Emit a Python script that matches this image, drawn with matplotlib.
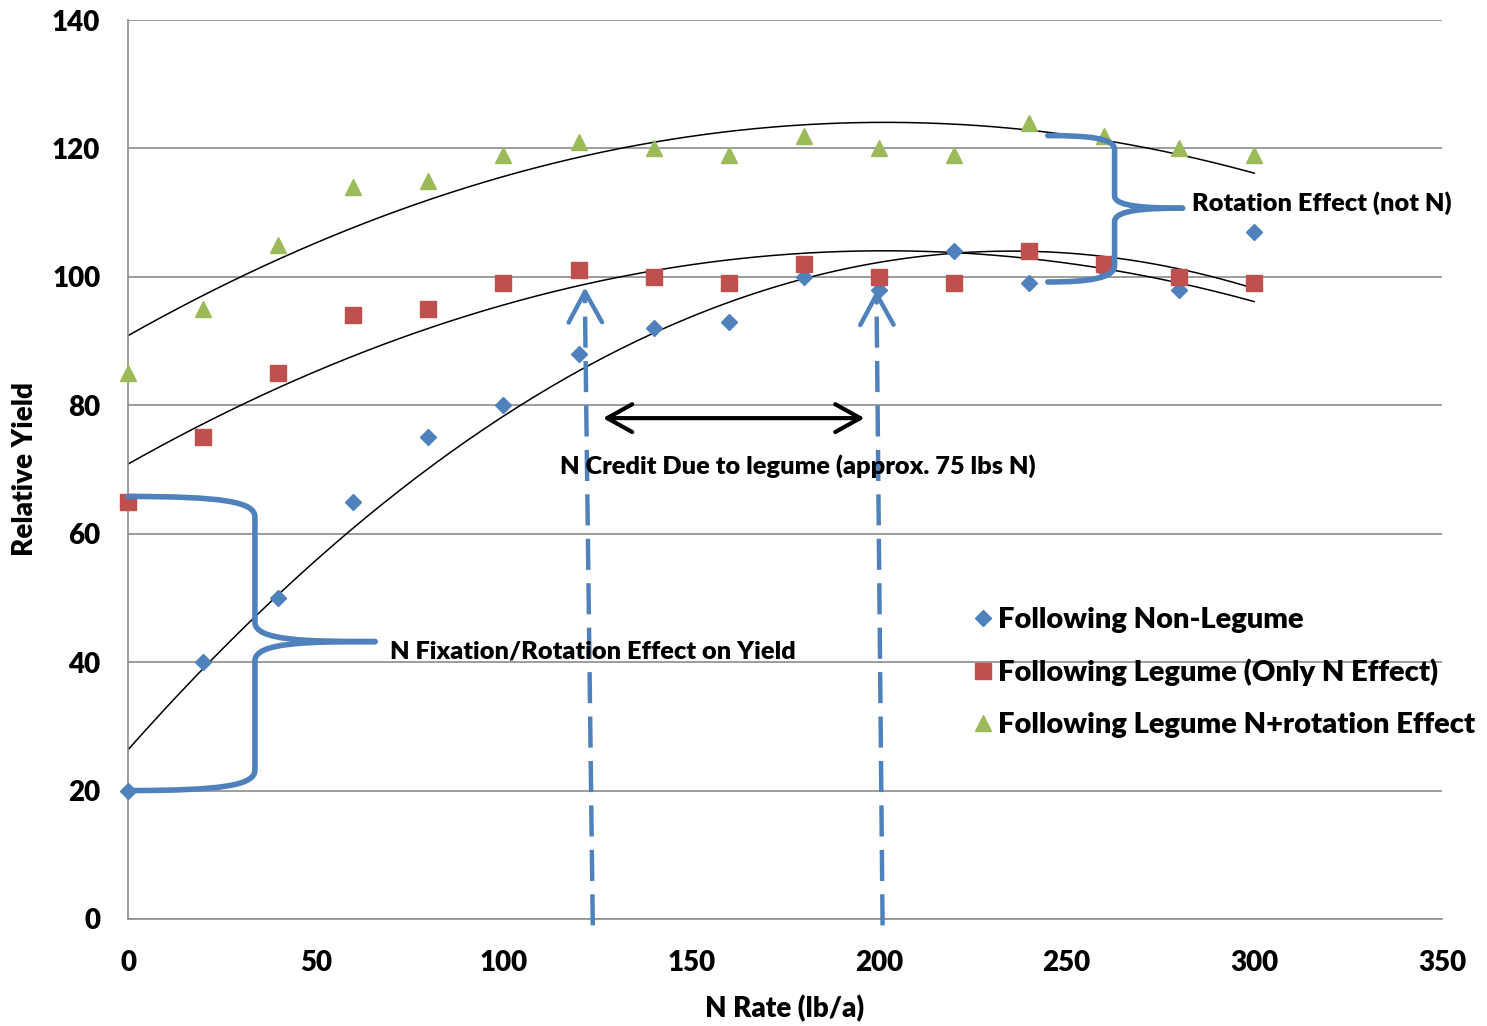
import numpy as np
import matplotlib
matplotlib.use("Agg")
import matplotlib.pyplot as plt
from matplotlib.path import Path
from matplotlib.patches import PathPatch

plt.rcParams["font.family"] = ["Lato", "DejaVu Sans"]
plt.rcParams["font.weight"] = "heavy"
plt.rcParams["axes.labelweight"] = "heavy"

n_rate = [0, 20, 40, 60, 80, 100, 120, 140, 160, 180, 200, 220, 240, 260, 280, 300]
non_legume = [20, 40, 50, 65, 75, 80, 88, 92, 93, 100, 98, 104, 99, 101, 98, 107]
legume_n = [65, 75, 85, 94, 95, 99, 101, 100, 99, 102, 100, 99, 104, 102, 100, 99]
legume_rot = [85, 95, 105, 114, 115, 119, 121, 120, 119, 122, 120, 119, 124, 122, 120, 119]

labels = [
    "Following Non-Legume",
    "Following Legume (Only N Effect)",
    "Following Legume N+rotation Effect",
]
colors = ["#4F81BD", "#C0504D", "#9BBB59"]
markers = ["D", "s", "^"]
msizes = [8, 11, 12]

fig = plt.figure(figsize=(14.87, 10.26), dpi=100)
ax = fig.add_axes([0.0861, 0.1043, 0.8836, 0.8762])

ax.set_xlim(0, 350)
ax.set_ylim(0, 140)
ax.set_yticks(range(0, 141, 20))
ax.set_xticks(range(0, 351, 50))
ax.grid(axis="y", color="#8c8c8c", linewidth=1.2)
ax.set_axisbelow(True)
for s in ["top", "right"]:
    ax.spines[s].set_visible(False)
for s in ["left", "bottom"]:
    ax.spines[s].set_color("#8c8c8c")
    ax.spines[s].set_linewidth(1.2)
ax.tick_params(length=0, labelsize=20)
ax.tick_params(axis="x", pad=22)
ax.tick_params(axis="y", pad=20)

# polynomial trend lines
xs = np.linspace(0, 300, 200)
series = [non_legume, legume_n, legume_rot]
for ys in series:
    coef = np.polyfit(n_rate, ys, 2)
    ax.plot(xs, np.polyval(coef, xs), color="black", linewidth=1.1, zorder=2)

for ys, c, m, ms, lab in zip(series, colors, markers, msizes, labels):
    ax.plot(n_rate, ys, linestyle="none", marker=m, markersize=ms, color=c,
            label=lab, zorder=3, clip_on=False)

blue = "#4F81BD"

# curly brackets
def brace(pts):
    codes = [Path.MOVETO, Path.CURVE4, Path.CURVE4, Path.CURVE4, Path.LINETO,
             Path.CURVE4, Path.CURVE4, Path.CURVE4]
    p = PathPatch(Path(pts, codes), facecolor="none", edgecolor=blue,
                  linewidth=4, capstyle="round", joinstyle="round",
                  zorder=4, clip_on=False)
    ax.add_patch(p)

# left bracket (N fixation)
brace([(0, 65.8), (25, 65.8), (33.8, 65.0), (33.8, 62.6), (33.8, 46.2),
       (33.8, 43.3), (48, 43.2), (65.8, 43.2)])
brace([(0, 20.0), (25, 20.0), (33.8, 20.8), (33.8, 23.2), (33.8, 40.2),
       (33.8, 43.1), (48, 43.2), (65.8, 43.2)])
# right bracket (rotation)
brace([(245, 122.0), (256, 122.0), (262.8, 121.6), (262.8, 119.8), (262.8, 112.6),
       (262.8, 110.9), (272, 110.7), (280.9, 110.7)])
brace([(245, 99.2), (256, 99.2), (262.8, 99.8), (262.8, 101.8), (262.8, 108.6),
       (262.8, 110.5), (272, 110.7), (280.9, 110.7)])

# dashed arrows
for (x0, y0, x1, y1) in [(123.8, -1.0, 121.7, 98.4), (201.0, -1.0, 199.4, 98.0)]:
    ax.plot([x0, x1], [y0, y1 - 2], color=blue, linewidth=3.2,
            linestyle=(0, (7, 3)), clip_on=False, zorder=4)
    ax.annotate("", xy=(x1, y1), xytext=(x1 + (x0 - x1) * 0.02, y1 - 2),
                arrowprops=dict(arrowstyle="->, head_length=1.1, head_width=0.6",
                                color=blue, linewidth=3.2, mutation_scale=20,
                                shrinkA=0, shrinkB=0),
                zorder=4)

# N credit double arrow
ax.annotate("", xy=(126.5, 78), xytext=(196.2, 78),
            arrowprops=dict(arrowstyle="<->, head_length=0.9, head_width=0.5",
                            color="black", linewidth=3, mutation_scale=20,
                            shrinkA=0, shrinkB=0))

ax.text(178.5, 70.5, "N Credit Due to legume (approx. 75 lbs N)", fontsize=18.3,
        ha="center", va="center", zorder=5)
ax.text(69.8, 41.7, "N Fixation/Rotation Effect on Yield", fontsize=18.3,
        ha="left", va="center", zorder=5)
ax.text(283.5, 111.5, "Rotation Effect (not N)", fontsize=18.3,
        ha="left", va="center", zorder=5)

ax.set_xlabel("N Rate (lb/a)", fontsize=20, labelpad=14)
ax.set_ylabel("Relative Yield", fontsize=20, labelpad=10)

ax.legend(loc="upper left", bbox_to_anchor=(0.632, 0.360), frameon=False,
          fontsize=21.0, handletextpad=0.05, handlelength=0.9,
          labelspacing=0.88, borderaxespad=0)

fig.savefig("out.png", dpi=100)
